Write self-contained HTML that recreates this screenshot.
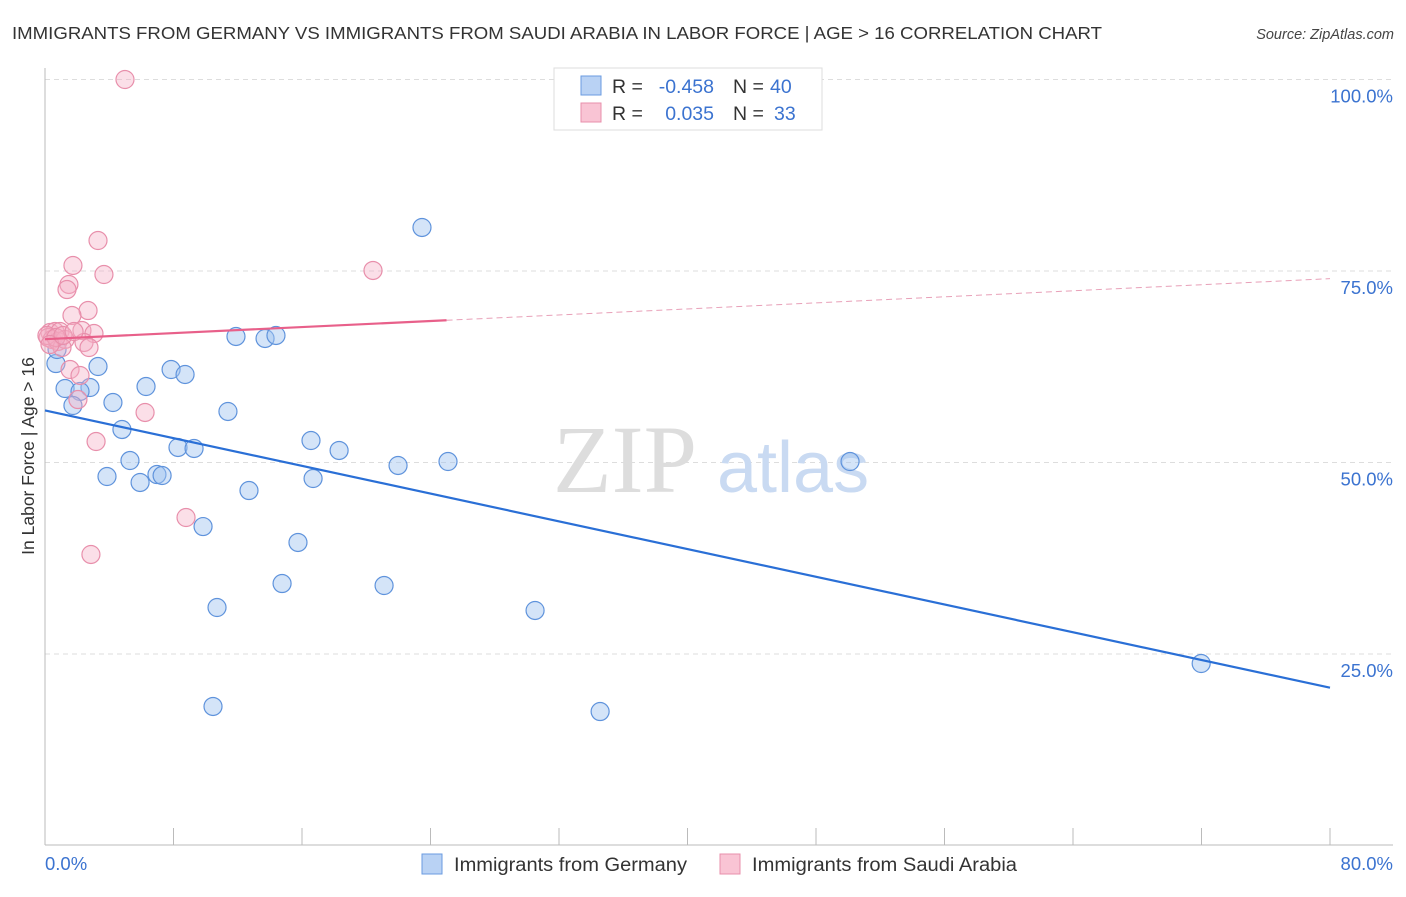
<!DOCTYPE html>
<html><head><meta charset="utf-8"><style>
body{margin:0;background:#fff;font-family:"Liberation Sans",sans-serif}
</style></head><body>
<svg id="chart" width="1406" height="892" xmlns="http://www.w3.org/2000/svg" font-family="Liberation Sans, sans-serif">
<text x="12" y="39" font-size="17.5" fill="#333" textLength="1090" lengthAdjust="spacingAndGlyphs">IMMIGRANTS FROM GERMANY VS IMMIGRANTS FROM SAUDI ARABIA IN LABOR FORCE | AGE &gt; 16 CORRELATION CHART</text>
<text x="1394" y="39" font-size="14.5" fill="#444" text-anchor="end" font-style="italic">Source: ZipAtlas.com</text>
<g id="grid"></g>
<text x="553" y="492" font-size="96" fill="#ddd" font-family="Liberation Serif, serif">ZIP</text>
<text x="717" y="492" font-size="72" fill="#c9daf2">atlas</text>
<g id="marks"></g>
<text transform="translate(34,456) rotate(-90)" font-size="17.5" fill="#333" text-anchor="middle">In Labor Force | Age &gt; 16</text>
<text x="45" y="870" font-size="18.5" fill="#3b73d0">0.0%</text>
<text x="1393" y="870" font-size="18.5" fill="#3b73d0" text-anchor="end">80.0%</text>
<g>
<rect x="554" y="68" width="268" height="62" fill="#fff" stroke="#ddd"/>
<rect x="581" y="76" width="20" height="19" fill="#b9d2f4" stroke="#6a9be0"/>
<rect x="581" y="103" width="20" height="19" fill="#f9c4d4" stroke="#e88fab"/>
<text x="612" y="93" font-size="19.5" fill="#333">R =</text>
<text x="714" y="93" font-size="19.5" fill="#3b73d0" text-anchor="end">-0.458</text>
<text x="733" y="93" font-size="19.5" fill="#333">N =</text>
<text x="770" y="93" font-size="19.5" fill="#3b73d0">40</text>
<text x="612" y="120" font-size="19.5" fill="#333">R =</text>
<text x="714" y="120" font-size="19.5" fill="#3b73d0" text-anchor="end">0.035</text>
<text x="733" y="120" font-size="19.5" fill="#333">N =</text>
<text x="774" y="120" font-size="19.5" fill="#3b73d0">33</text>
</g>
<g>
<rect x="422" y="854" width="20" height="20" fill="#b9d2f4" stroke="#6a9be0"/>
<text x="454" y="871" font-size="19" fill="#333" textLength="233" lengthAdjust="spacingAndGlyphs">Immigrants from Germany</text></g>
<g>
<rect x="720" y="854" width="20" height="20" fill="#f9c4d4" stroke="#e88fab"/>
<text x="752" y="871" font-size="19" fill="#333" textLength="265" lengthAdjust="spacingAndGlyphs">Immigrants from Saudi Arabia</text></g>
</svg>
<script>
const yTicks=[25,50,75,100];
const yTickLabels=["25.0%","50.0%","75.0%","100.0%"];
const germanyX=[23.47,11.89,13.70,14.38,0.68,3.30,7.85,8.72,1.25,2.80,2.18,6.29,1.74,4.23,11.39,4.79,16.56,18.31,8.28,9.28,5.29,21.98,25.09,50.12,3.86,6.97,7.29,5.92,16.69,12.70,9.84,15.75,14.76,21.11,10.71,30.51,71.98,10.46,34.56,0.75];
const germanyY=[80.68,66.45,66.19,66.58,62.92,62.53,62.14,61.49,59.66,59.79,59.27,59.92,57.44,57.83,56.66,54.31,52.87,51.57,51.96,51.83,50.26,49.61,50.13,50.13,48.17,48.43,48.30,47.39,47.91,46.34,41.64,39.56,34.20,33.94,31.07,30.68,23.76,18.15,17.49,64.75];
const saudiX=[4.98,3.30,1.74,3.67,20.42,1.49,1.37,2.68,1.68,0.31,0.62,0.93,2.30,3.05,0.19,0.44,0.81,1.25,2.43,2.74,1.06,1.56,2.18,6.23,2.05,3.18,8.78,2.86,0.12,0.68,0.31,1.12,1.81];
const saudiY=[100.0,78.98,75.72,74.54,75.07,73.24,72.58,69.84,69.19,66.97,67.10,67.10,67.23,66.84,66.32,66.06,65.80,66.06,65.67,65.01,65.01,62.14,61.36,56.53,58.22,52.74,42.82,37.99,66.58,66.32,65.40,66.58,67.10];
const germanyTrend=[56.8,20.6];
const saudiTrend=[66.1,74.0];
const saudiSolidEnd=25;
const X=v=>45+v*(1285/80);
const Y=v=>845.5-v*7.66;
const NS="http://www.w3.org/2000/svg";
function mk(tag,attrs,parent){const e=document.createElementNS(NS,tag);for(const k in attrs)e.setAttribute(k,attrs[k]);parent.appendChild(e);return e;}
const grid=document.getElementById('grid');
yTicks.forEach((t,i)=>{
 const l=mk('line',{x1:45,x2:1393,y1:Y(t),y2:Y(t),stroke:'#ddd','stroke-dasharray':'5,4'},grid);
 
 
 const tx=mk('text',{x:1393,y:Y(t)+23,'font-size':18.5,fill:'#3b73d0','text-anchor':'end'},grid);
 tx.textContent=yTickLabels[i];
 
 
});
const ax=mk('line',{x1:45,x2:45,y1:68,y2:845,stroke:'#bbb'},grid);


const bx=mk('line',{x1:45,x2:1393,y1:845,y2:845,stroke:'#bbb'},grid);


for(let i=0;i<=10;i++){const t=mk('line',{x1:X(i*8),x2:X(i*8),y1:828,y2:845,stroke:'#bbb'},grid);
 
 }
const marks=document.getElementById('marks');
germanyX.forEach((x,i)=>{const c=mk('circle',{cx:X(x),cy:Y(germanyY[i]),r:9,fill:'rgba(160,195,240,0.45)',stroke:'#5f93dc','stroke-width':1.2},marks);
 
 });
saudiX.forEach((x,i)=>{const c=mk('circle',{cx:X(x),cy:Y(saudiY[i]),r:9,fill:'rgba(245,175,198,0.4)',stroke:'#e88fab','stroke-width':1.2},marks);
 
 });
const gl=mk('line',{x1:X(0),y1:Y(germanyTrend[0]),x2:X(80),y2:Y(germanyTrend[1]),stroke:'#2a6fd6','stroke-width':2.2},marks);


const sy=v=>saudiTrend[0]+(saudiTrend[1]-saudiTrend[0])*v/80;
const sl=mk('line',{x1:X(0),y1:Y(sy(0)),x2:X(saudiSolidEnd),y2:Y(sy(saudiSolidEnd)),stroke:'#e8608a','stroke-width':2.2},marks);


const sd=mk('line',{x1:X(saudiSolidEnd),y1:Y(sy(saudiSolidEnd)),x2:X(80),y2:Y(sy(80)),stroke:'#e8a0b8','stroke-width':1,'stroke-dasharray':'6,4'},marks);


</script>
</body></html>
